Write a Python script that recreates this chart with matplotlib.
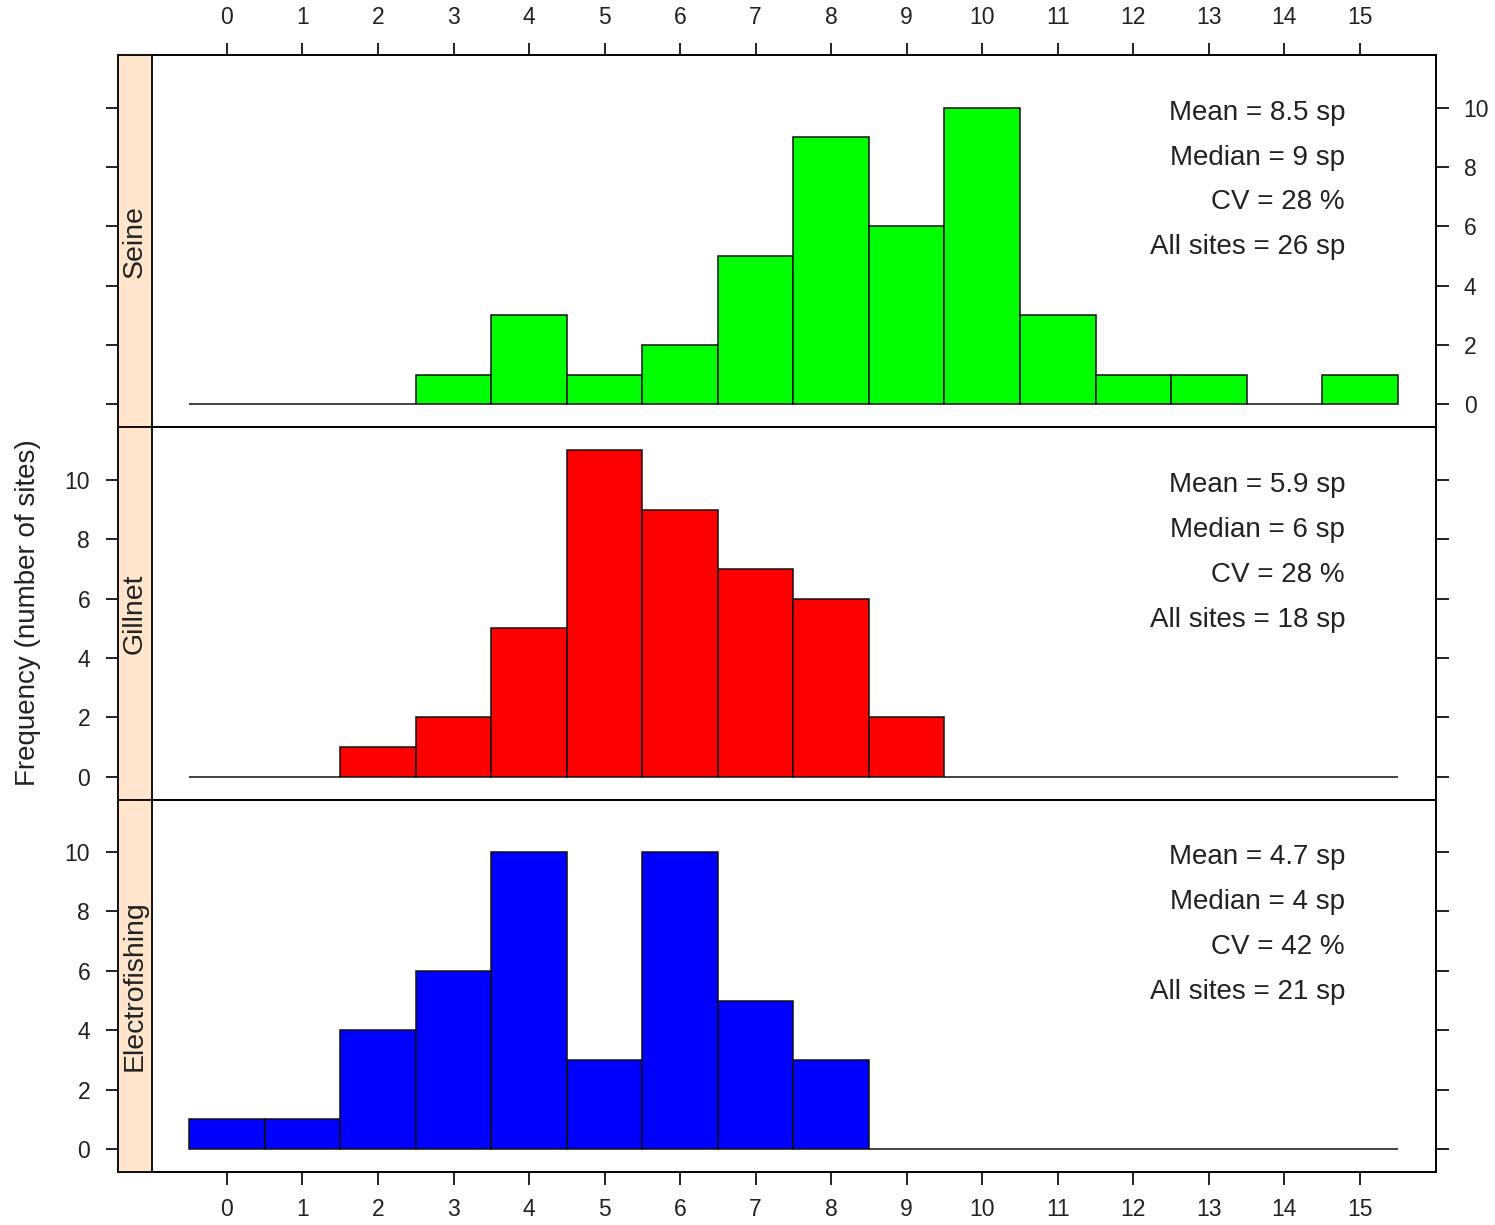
import matplotlib.pyplot as plt
from matplotlib.patches import Rectangle

# number of species caught per site (bins 0..15) -> number of sites
species = list(range(16))
seine = [0, 0, 0, 1, 3, 1, 2, 5, 9, 6, 10, 3, 1, 1, 0, 1]
gillnet = [0, 0, 1, 2, 5, 11, 9, 7, 6, 2, 0, 0, 0, 0, 0, 0]
electro = [1, 1, 4, 6, 10, 3, 10, 5, 3, 0, 0, 0, 0, 0, 0, 0]

methods = ['Seine', 'Gillnet', 'Electrofishing']
counts = [seine, gillnet, electro]
colors = ['#00FF00', '#FF0000', '#0000FF']
means = ['8.5', '5.9', '4.7']
medians = ['9', '6', '4']
cvs = ['28', '28', '42']
all_sites = ['26', '18', '21']

text_font = ['Liberation Sans', 'DejaVu Sans']
tick_font = ['Liberation Sans Narrow', 'Liberation Sans', 'DejaVu Sans']
txt_col = '#222222'

fig = plt.figure(figsize=(14.95, 12.25), dpi=100)

left, width = 0.0789, 0.8816
top, h = 0.9551, 0.3039
strip_w = 0.0258

for i, m in enumerate(methods):
    ax = fig.add_axes([left, top - (i + 1) * h, width, h])
    ax.bar(species, counts[i], width=1, color=colors[i], edgecolor='#111111',
           linewidth=1.1, zorder=2)
    ax.set_xlim(-1.443, 16.007)
    ax.set_ylim(-0.77, 11.77)

    for s in ax.spines.values():
        s.set_linewidth(1.4)

    # strip on the left
    ax.add_patch(Rectangle((0, 0), strip_w, 1, transform=ax.transAxes,
                           facecolor='#FFE5CC', edgecolor='#111111',
                           linewidth=1.4, zorder=3, clip_on=False))
    ax.text(strip_w / 2, 0.5, m, transform=ax.transAxes, rotation=90,
            ha='center', va='center', fontsize=20.5, family=text_font,
            color=txt_col, zorder=4)

    # stats text
    lines = ['Mean = %s sp' % means[i], 'Median = %s sp' % medians[i],
             'CV = %s %%' % cvs[i], 'All sites = %s sp' % all_sites[i]]
    for j, t in enumerate(lines):
        ax.text(0.931, 0.845 - j * 0.1205, t, transform=ax.transAxes,
                ha='right', va='center', fontsize=20, family=text_font,
                color=txt_col)

    ax.set_yticks([0, 2, 4, 6, 8, 10])
    ax.set_xticks(species)
    ax.tick_params(direction='out', length=9, width=1.3, labelsize=16.5,
                   colors='#111111', labelcolor='#222222')
    ax.tick_params(axis='y', pad=11)
    ax.tick_params(axis='x', pad=10)

    if i == 0:
        ax.tick_params(axis='y', left=True, right=True, labelleft=False,
                       labelright=True)
        ax.tick_params(axis='x', top=True, bottom=False, labeltop=True,
                       labelbottom=False)
    elif i == 1:
        ax.tick_params(axis='y', left=True, right=True, labelleft=True,
                       labelright=False)
        ax.tick_params(axis='x', top=False, bottom=False, labeltop=False,
                       labelbottom=False)
    else:
        ax.tick_params(axis='y', left=True, right=True, labelleft=True,
                       labelright=False)
        ax.tick_params(axis='x', top=False, bottom=True, labeltop=False,
                       labelbottom=True)

    for lab in ax.get_xticklabels() + ax.get_yticklabels():
        lab.set_family(tick_font)

fig.text(0.0187, 0.4996, 'Frequency (number of sites)', rotation=90,
         ha='center', va='center', fontsize=20, family=text_font,
         color=txt_col)

fig.savefig('out.png', dpi=100)
